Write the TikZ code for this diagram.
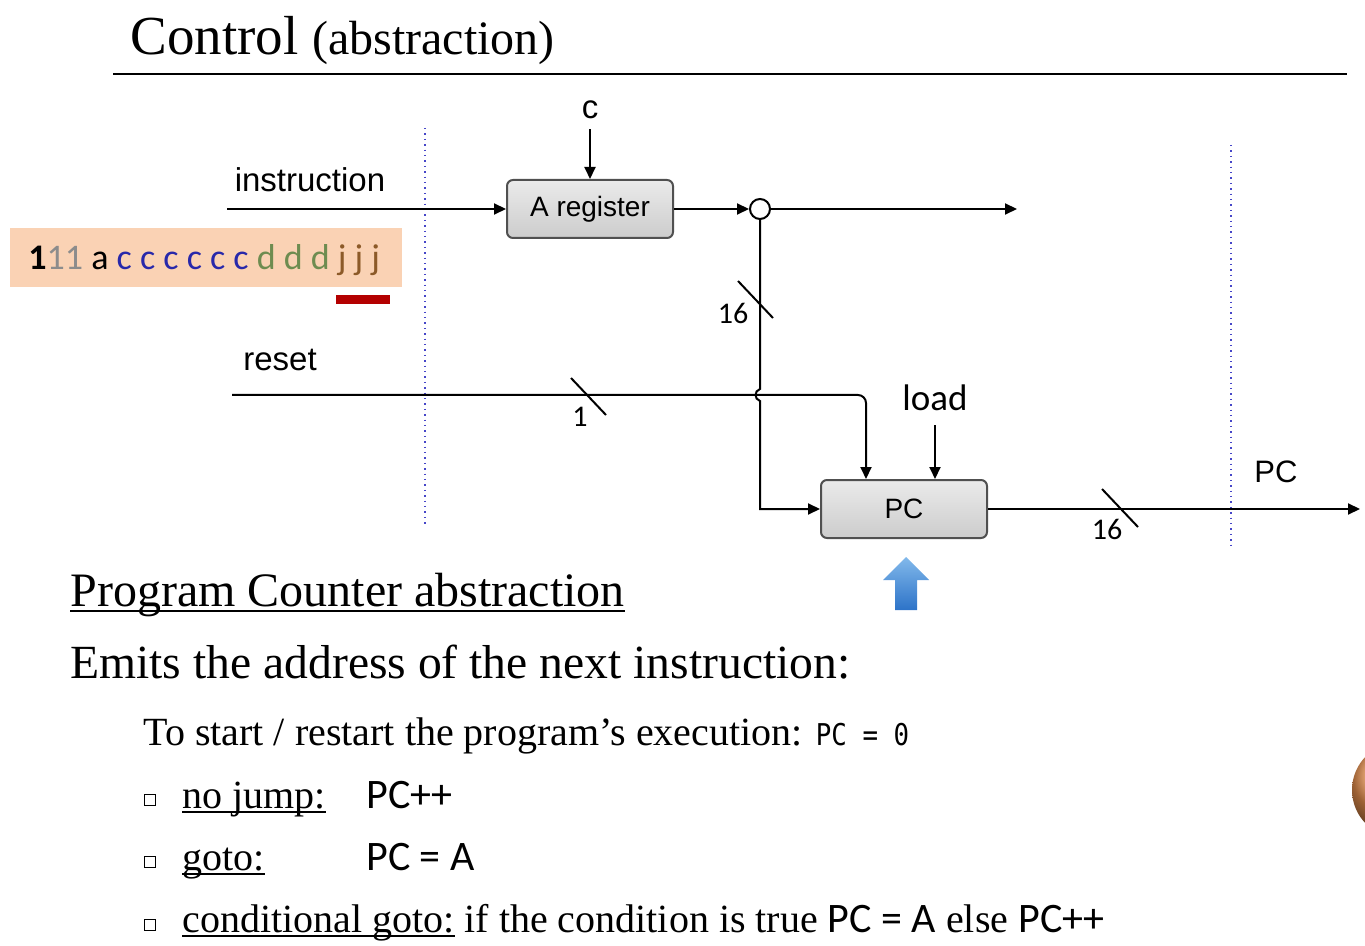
\documentclass[tikz,border=0pt]{standalone}
\usepackage{fontspec}
\setmainfont{Liberation Serif}
\newfontfamily\arialf{Liberation Sans}
\newfontfamily\calf{Carlito}
\newfontfamily\monof{DejaVu Sans Mono}
\usetikzlibrary{arrows.meta}
\definecolor{peach}{RGB}{250,210,180}
\definecolor{cblue}{RGB}{40,40,170}
\definecolor{dgreen}{RGB}{110,140,80}
\definecolor{jbrown}{RGB}{140,90,40}
\definecolor{bgray}{RGB}{140,140,140}
\definecolor{darkred}{RGB}{180,0,0}
\definecolor{guide}{RGB}{70,70,200}
\definecolor{boxedge}{RGB}{80,80,80}
\newcommand{\fsz}[1]{\fontsize{#1}{1.2\dimexpr #1\relax}\selectfont}
% underline set close to the baseline
\newcommand{\myul}[1]{\leavevmode\setbox0\hbox{#1}\rlap{\rule[-0.13em]{\wd0}{0.045em}}\box0\relax}
\tikzset{
  wire/.style={line width=1pt},
  arr/.style={wire,-{Triangle[length=6pt,width=5.5pt]}},
  regbox/.style={draw=boxedge,line width=1pt,rounded corners=3pt,
    top color=black!8,bottom color=black!20,
    minimum width=83pt,minimum height=29pt,inner sep=0pt,
    font=\arialf\fsz{14pt}},
  siglabel/.style={font=\arialf\fsz{16.5pt},inner sep=1pt},
  buslabel/.style={font=\calf\fsz{15pt},inner sep=1pt},
  buswidth/.style={line width=1pt},
  guideline/.style={guide,dotted,line width=0.7pt},
  bodytext/.style={anchor=base west,inner sep=0pt},
  bulletbox/.style={draw=black,line width=0.7pt,minimum size=5.5pt,inner sep=0pt}
}
\begin{document}
\begin{tikzpicture}[x=0.5pt,y=-0.5pt]
\useasboundingbox (0,0) rectangle (1365,946);

% heading and rule
\node[bodytext] (title) at (130,55) {\fsz{27.5pt}Control {\fsz{24pt}(abstraction)}};
\draw[line width=1.3pt] (113,74) -- (1347,74);

% dotted guides
\draw[guideline] (425,128) -- (425,527);
\draw[guideline] (1231,145) -- (1231,548);

% instruction word
\node[fill=peach,minimum width=196pt,minimum height=29.5pt,inner sep=0pt] (word) at (206,257.5) {};
\node[bodytext,font=\calf\fsz{18pt}] (bits) at (28,270)
  {\textbf{1}\textcolor{bgray}{11} a \textcolor{cblue}{c c c c c c} \textcolor{dgreen}{d d d} \textcolor{jbrown}{j j j}};
\fill[darkred] (336,295) rectangle (390,304);

% A register
\node[regbox] (areg) at (590,209) {A register};
\node[siglabel] (c) at (590,110) {c};
\draw[arr] ([yshift=-4pt]c.south) -- (areg.north);
\node[siglabel] (instrlbl) at (310,180) {instruction};
\coordinate (instr) at (227,209);
\draw[arr] (instr) -- (areg.west);
\node[circle,draw,fill=white,line width=1pt,minimum size=10pt,inner sep=0pt] (j) at (760,209) {};
\draw[arr] (areg.east) -- (j.west);
\coordinate (aout) at (1017,209);
\draw[arr] (j.east) -- (aout);

% program counter
\node[regbox] (pc) at (904,509) {PC};

% A value into PC, hopping over the reset line
\draw[arr] (j.south) -- (760,389)
  .. controls (754,391) and (754,399) .. (760,401)
  -- (j.south |- pc.west) -- (pc.west);
\draw[buswidth] (738,281) -- (773,318);
\node[buslabel] (w1) at (733,313) {16};

% reset
\node[siglabel] (rstlbl) at (280,360) {reset};
\coordinate (rst) at (232,395);
\draw[arr,rounded corners=4pt] (rst) -- ([xshift=23pt]pc.north west |- rst) -- ([xshift=23pt]pc.north west);
\draw[buswidth] (571,378) -- (606,415);
\node[buslabel] (w2) at (580,417) {1};

% load
\node[font=\calf\fsz{18.5pt},inner sep=1pt] (load) at (935,398) {load};
\draw[arr] ([yshift=-6pt]load.south) -- (load.south |- pc.north);

% PC output
\coordinate (pcout) at (1360,509);
\draw[arr] (pc.east) -- (pcout);
\draw[buswidth] (1102,489) -- (1138,527);
\node[buslabel] (w3) at (1107,529) {16};
\node[siglabel,font=\arialf\fsz{15.5pt}] (pclbl) at (1276,472) {PC};

% pointer arrow
\shade[top color={rgb,255:red,130;green,185;blue,235},bottom color={rgb,255:red,45;green,115;blue,200}]
  (895,610) -- (895,580) -- (883,580) -- (906,557) -- (929,580) -- (917,580) -- (917,610) -- cycle;

% text
\node[bodytext] (sub) at (70,606) {\fsz{24pt}\myul{Program Counter abstraction}};
\node[bodytext] (emits) at (70,678) {\fsz{23.8pt}Emits the address of the next instruction:};
\node[bodytext] (start) at (143,745) {\fsz{20pt}To start / restart the program’s execution: {\monof\fsz{15pt}\scalebox{0.86}[1]{PC = 0}}};

\node[bulletbox] (b1) at (150,800) {};
\node[bodytext] (l1) at (182,808) {\fsz{20pt}\myul{no jump:}};
\node[bodytext] (r1) at (366,808) {\calf\fsz{21pt}PC++};
\node[bulletbox] (b2) at (150,862) {};
\node[bodytext] (l2) at (182,870) {\fsz{20pt}\myul{goto:}};
\node[bodytext] (r2) at (366,870) {\calf\fsz{21pt}PC = A};
\node[bulletbox] (b3) at (150,925) {};
\node[bodytext] (l3) at (182,932) {\fsz{20pt}\myul{conditional goto:} if the condition is true {\calf\fsz{21pt}PC = A} else {\calf\fsz{21pt}PC++}};

% edge of a round shape at the right border
\begin{scope}
  \clip (0,0) rectangle (1365,946);
  \shade[ball color={rgb,255:red,225;green,140;blue,75}] (1400,790) circle (48);
\end{scope}
\end{tikzpicture}
\end{document}
